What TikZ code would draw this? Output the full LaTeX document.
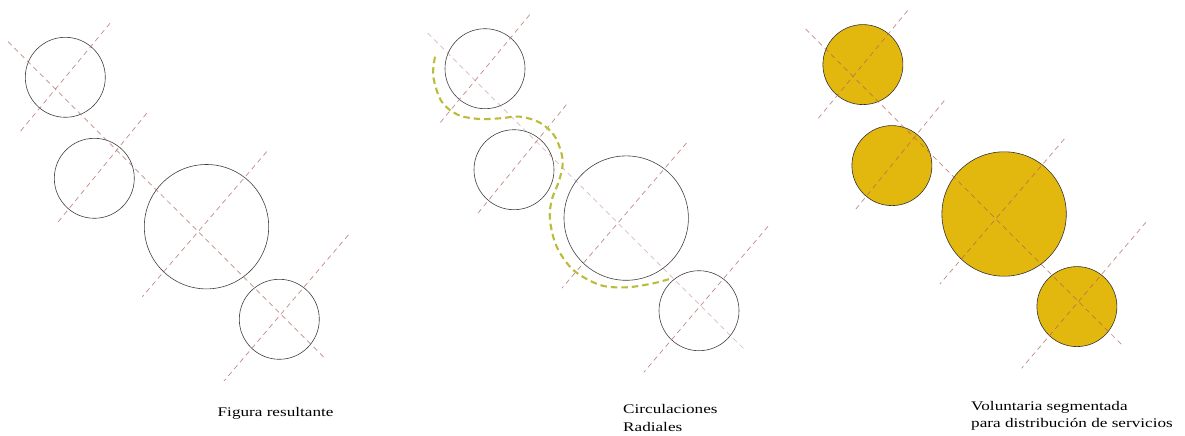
\documentclass[tikz,border=0pt]{standalone}
\usepackage{fontspec}
\setmainfont[FakeStretch=1.3]{Liberation Serif}
\definecolor{guidered}{RGB}{176,96,96}
\definecolor{goldfill}{RGB}{227,184,14}
\definecolor{olivedash}{RGB}{188,188,58}
\tikzset{
  ring/.style={circle, draw=black!75, line width=0.6pt, inner sep=0pt, outer sep=0pt},
  guide/.style={draw=guidered, line width=0.7pt, dash pattern=on 5pt off 4pt, draw opacity=0.75},
  route/.style={draw=olivedash, line width=2.1pt, dash pattern=on 6.5pt off 4pt},
  captxt/.style={anchor=base west, inner sep=0pt, font=\fontsize{13.2}{15}\selectfont}
}
% #1 prefix, #2 shift, #3 extra ring style, #4 extra style of the long guide
\newcommand\cluster[4]{%
 \begin{scope}[shift={#2}]
  \node[ring, minimum size=80pt, #3]   (#1A) at (65.3,77.3) {};
  \node[ring, minimum size=80pt, #3]   (#1B) at (94.3,178.3) {};
  \node[ring, minimum size=124.4pt, #3] (#1C) at (206.5,226.7) {};
  \node[ring, minimum size=80pt, #3]   (#1D) at (279.3,319.3) {};
  \coordinate (#1l1) at (8,41.7);    \coordinate (#1l2) at (325,358.3);
  \coordinate (#1a1) at (110,23.3);  \coordinate (#1a2) at (20.7,131);
  \coordinate (#1b1) at (146.7,113.3); \coordinate (#1b2) at (58.3,221.7);
  \coordinate (#1c1) at (266.7,151.7); \coordinate (#1c2) at (142.3,296.7);
  \coordinate (#1d1) at (348.3,235); \coordinate (#1d2) at (224,381);
  \draw[guide, #4] (#1l1) -- (#1l2);
  \draw[guide] (#1a1) -- (#1a2);
  \draw[guide] (#1b1) -- (#1b2);
  \draw[guide] (#1c1) -- (#1c2);
  \draw[guide] (#1d1) -- (#1d2);
 \end{scope}}
\begin{document}
\begin{tikzpicture}[x=1pt, y=-1pt]
\fill[white] (0,0) rectangle (1185,436);
\useasboundingbox (0,0) rectangle (1185,436);

\cluster{p}{(0,0)}{}{}
\cluster{q}{(419.7,-8.6)}{}{draw opacity=0.45}
\cluster{r}{(797.6,-12.7)}{fill=goldfill, draw=black!80}{}

\draw[route] plot[smooth, tension=0.55] coordinates {
 (435,56.7) (433.3,76.7) (441.7,101.7) (458.3,115) (480,119) (500,118.3)
 (520,116.7) (540,122.7) (555,136.7) (562.7,160) (559.3,180) (551.7,200)
 (550,220) (556.7,246.7) (573.3,270) (600,285) (626.7,287.3) (653.3,283.3)
 (671.7,278.3)};

\node[captxt] (t1) at (217.5,416) {Figura resultante};
\node[captxt] (t2) at (623,413.5) {Circulaciones};
\node[captxt] (t3) at (623,431) {Radiales};
\node[captxt] (t4) at (971,410.7) {Voluntaria segmentada};
\node[captxt] (t5) at (971,427.5) {para distribución de servicios};
\end{tikzpicture}
\end{document}
